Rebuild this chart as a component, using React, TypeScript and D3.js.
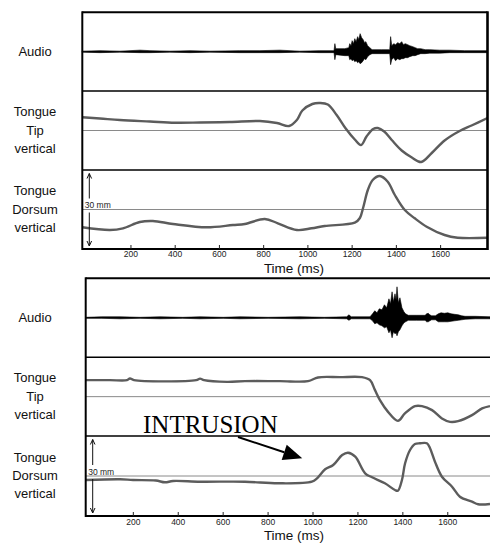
import * as d3 from "d3";

const ticks = [200, 400, 600, 800, 1000, 1200, 1400, 1600];
const rowLabels = [["Audio"], ["Tongue", "Tip", "vertical"], ["Tongue", "Dorsum", "vertical"]];

// audio envelope: [ms, up, down]
const topAudio: [number, number, number][] = [
  [-21, 0.5, 0.5], [60, 1, 1], [150, 0.5, 0.5], [241, 1.5, 1], [286, 1, 1], [376, 0.5, 0.5],
  [467, 1, 1], [557, 0.5, 0.5], [692, 1, 1], [783, 1, 1], [873, 1.5, 1], [963, 0.5, 0.5],
  [1054, 1, 1], [1113, 1, 1], [1118, 1, 1], [1122, 8, 8], [1126, 3, 3], [1167, 3, 4],
  [1185, 4, 4], [1189, 8, 8], [1195, 6, 7], [1200, 11, 9], [1206, 8, 8], [1212, 13, 10],
  [1218, 10, 9], [1225, 15, 11], [1230, 12, 10], [1236, 18, 12], [1243, 14, 11], [1250, 12, 9],
  [1256, 9, 7], [1262, 10, 8], [1270, 6, 5], [1280, 4, 3], [1290, 2, 2], [1334, 2, 2],
  [1370, 2, 2], [1374, 15, 13], [1379, 6, 8], [1388, 8, 6], [1396, 7, 9], [1406, 9, 7],
  [1415, 8, 8], [1424, 10, 7], [1432, 7, 7], [1440, 8, 6], [1451, 7, 6], [1460, 6, 5],
  [1474, 5, 4], [1485, 4, 4], [1496, 3, 3], [1510, 3, 2], [1530, 2, 2], [1551, 2, 1.5],
  [1596, 1.5, 1.5], [1641, 1.5, 1], [1709, 1, 1], [1812, 1, 1],
];

const topTip: [number, number][] = [
  [-20, 13.2], [60, 12], [150, 10.5], [286, 9], [399, 7.8], [512, 8], [647, 8.5], [783, 9.5],
  [860, 7.5], [915, 4.5], [950, 10.5], [975, 20], [1020, 26.5], [1054, 27.5], [1090, 26],
  [1130, 15.5], [1171, 2], [1212, -9], [1240, -14.5], [1265, -6], [1295, 1.5], [1316, 2.5],
  [1345, -1], [1379, -9.5], [1424, -20], [1470, -27], [1512, -31.5], [1560, -22.5],
  [1618, -10], [1686, -0.5], [1740, 5], [1812, 12.5],
];

const topDorsum: [number, number][] = [
  [-20, -17.8], [105, -20.5], [164, -18.8], [240, -12.5], [299, -11.5], [390, -14.5],
  [543, -17.8], [661, -15.5], [715, -14.5], [805, -9.5], [864, -13.8], [950, -20.5],
  [1017, -18.8], [1076, -16.5], [1212, -13.2], [1235, -8.5], [1250, 2], [1271, 19.5],
  [1293, 29.5], [1325, 33.5], [1361, 27.8], [1393, 14.5], [1438, -0.5], [1483, -8.8],
  [1537, -17.2], [1618, -25.5], [1677, -28.2], [1812, -28.2],
];

const botAudio: [number, number, number][] = [
  [-12, 0.5, 0.5], [60, 1, 0.5], [141, 1, 1], [230, 0.5, 0.5], [319, 1, 1], [420, 0.5, 0.5],
  [497, 1, 1], [600, 0.5, 0.5], [675, 1, 1], [800, 0.5, 0.5], [942, 1, 1], [1050, 0.5, 0.5],
  [1150, 1, 1], [1160, 3, 2.5], [1170, 1, 1], [1254, 1, 1], [1265, 4, 3], [1275, 7, 6],
  [1285, 5, 5], [1295, 9, 7], [1307, 8, 8], [1318, 13, 10], [1328, 10, 9], [1338, 19, 15],
  [1345, 14, 12], [1352, 26, 20], [1358, 16, 14], [1365, 24, 16], [1370, 18, 15],
  [1374, 31, 18], [1380, 15, 14], [1387, 20, 12], [1396, 10, 8], [1405, 6, 5], [1412, 4, 4],
  [1424, 2.5, 2.5], [1460, 2.5, 2.5], [1499, 2.5, 2.5], [1506, 4, 4], [1513, 4.5, 4],
  [1520, 3, 3], [1528, 2, 2], [1545, 2, 2], [1558, 4, 4], [1570, 5, 4], [1585, 4.5, 4],
  [1600, 5, 4], [1615, 4, 3.5], [1630, 3.5, 3], [1647, 3, 2.5], [1662, 2, 2],
  [1677, 1.5, 1.5], [1722, 1.5, 1], [1788, 1, 1],
];

const botTip: [number, number][] = [
  [-12, 16.5], [96, 16.5], [172, 16.5], [185, 18.2], [203, 16.5], [480, 16.5], [497, 18], [515, 16.5],
  [617, 14.8], [697, 15.5], [853, 15.5], [978, 15.5], [1022, 19.2], [1120, 19.5],
  [1218, 19.5], [1254, 16.5], [1276, 6.5], [1298, -3.5], [1334, -15.2], [1378, -24.2],
  [1409, -16.8], [1454, -9.5], [1485, -9.5], [1530, -13.5], [1574, -21.8], [1610, -25.2],
  [1646, -24.5], [1708, -18.5], [1753, -11.8], [1788, -9.5],
];

const botDorsum: [number, number][] = [
  [-12, -4], [141, -3.3], [199, -4], [300, -4.5], [341, -6.3], [377, -5], [497, -5.7], [697, -5.7],
  [844, -7.3], [995, -5.7], [1018, -2.3], [1054, 6.7], [1090, 11], [1130, 21], [1156, 23.3],
  [1188, 19.3], [1232, 2.7], [1263, -1.3], [1320, -7.3], [1365, -14], [1378, -14.7],
  [1396, -4], [1410, 12.7], [1432, 26], [1454, 32], [1476, 32.7], [1507, 32.7], [1521, 27.7],
  [1543, 14.3], [1574, -0.7], [1619, -10.7], [1654, -20.7], [1708, -25.7], [1735, -28.3],
  [1788, -28],
];

// annotation: [ms, dorsum value]
const intrusionFrom: [number, number] = [666, 39];
const intrusionTo: [number, number] = [952, 17.7];

const sans = "Liberation Sans, Arial, sans-serif";
const curveColor = "#5c5c5c";

type FigProps = {
  left: number;
  right: number;
  domain: [number, number];
  rows: number[]; // y of 4 horizontal boundaries
  audio: [number, number, number][];
  tip: [number, number][];
  dorsum: [number, number][];
  rightBorder: boolean;
  tickDy: number;
  timeY: number;
  annotate?: boolean;
};

const Figure = ({ left, right, domain, rows, audio, tip, dorsum, rightBorder, tickDy, timeY, annotate }: FigProps) => {
  const x = d3.scaleLinear().domain(domain).range([left, right]);
  const panelY = (i: number) => {
    const h = rows[i + 1] - rows[i];
    return d3.scaleLinear().domain([-h / 2, h / 2]).range([rows[i + 1], rows[i]]);
  };
  const yA = panelY(0);
  const yT = panelY(1);
  const yD = panelY(2);

  const area = d3
    .area<[number, number, number]>()
    .x((d) => x(d[0]))
    .y0((d) => yA(-d[2]))
    .y1((d) => yA(d[1]));

  const lineT = d3
    .line<[number, number]>()
    .x((d) => x(d[0]))
    .y((d) => yT(d[1]))
    .curve(d3.curveCatmullRom.alpha(0.5));
  const lineD = d3
    .line<[number, number]>()
    .x((d) => x(d[0]))
    .y((d) => yD(d[1]))
    .curve(d3.curveCatmullRom.alpha(0.5));

  const bottom = rows[3];
  const dTop = rows[2];
  const dMid = yD(0);
  const ax = left + 7;

  return (
    <g>
      {/* row labels */}
      {rowLabels.map((lines, i) => {
        const mid = (rows[i] + rows[i + 1]) / 2;
        return lines.map((t, j) => (
          <text
            key={i + "-" + j}
            x={35}
            y={mid + 4 + (j - (lines.length - 1) / 2) * 18.3}
            textAnchor="middle"
            fontFamily={sans}
            fontSize={13}
            fill="#111"
          >
            {t}
          </text>
        ));
      })}

      {/* reference lines */}
      {[yA, yT, yD].map((s, i) => (
        <line key={i} x1={left} x2={right} y1={s(0)} y2={s(0)} stroke="#8a8a8a" strokeWidth={1} />
      ))}

      <path d={area(audio) ?? ""} fill="#000" stroke="#000" strokeWidth={0.6} />
      <path d={lineT(tip) ?? ""} fill="none" stroke={curveColor} strokeWidth={2.4} />
      <path d={lineD(dorsum) ?? ""} fill="none" stroke={curveColor} strokeWidth={2.4} />

      {/* 30 mm arrows */}
      <g stroke="#111" strokeWidth={1} fill="none">
        <line x1={ax} x2={ax} y1={dTop + 3.5} y2={dMid - 11} />
        <path d={`M${ax - 2.3},${dTop + 8.5}L${ax},${dTop + 3.5}L${ax + 2.3},${dTop + 8.5}`} />
        <line x1={ax} x2={ax} y1={dMid + 3} y2={bottom - 3} />
        <path d={`M${ax - 2.3},${bottom - 8}L${ax},${bottom - 3}L${ax + 2.3},${bottom - 8}`} />
      </g>
      <text x={left + 2.5} y={dMid - 1.5} fontFamily={sans} fontSize={8.5} fill="#222">
        30 mm
      </text>

      {/* frame */}
      <g stroke="#000" fill="none">
        <line x1={left} x2={right} y1={rows[0]} y2={rows[0]} strokeWidth={2} />
        <line x1={left} x2={right} y1={rows[1]} y2={rows[1]} strokeWidth={1.6} />
        <line x1={left} x2={right} y1={rows[2]} y2={rows[2]} strokeWidth={1.6} />
        <line x1={left} x2={right} y1={bottom} y2={bottom} strokeWidth={2} />
        <line x1={left} x2={left} y1={rows[0] - 1} y2={bottom + 1} strokeWidth={2} />
        {rightBorder && <line x1={right} x2={right} y1={rows[0] - 1} y2={bottom + 1} strokeWidth={2.6} />}
      </g>

      {/* x ticks */}
      {ticks.map((t) => (
        <g key={t}>
          <line x1={x(t)} x2={x(t)} y1={bottom} y2={bottom - 4} stroke="#222" strokeWidth={1} />
          <text x={x(t)} y={bottom + tickDy} textAnchor="middle" fontFamily={sans} fontSize={8.5} fill="#222">
            {t}
          </text>
        </g>
      ))}
      <text x={294} y={timeY} textAnchor="middle" fontFamily={sans} fontSize={13.5} fill="#111">
        Time (ms)
      </text>

      {annotate && (() => {
        const x0 = x(intrusionFrom[0]);
        const y0 = yD(intrusionFrom[1]);
        const x1 = x(intrusionTo[0]);
        const y1 = yD(intrusionTo[1]);
        const ang = Math.atan2(y1 - y0, x1 - x0);
        const len = 19;
        const half = 8;
        const bx = x1 - len * Math.cos(ang);
        const by = y1 - len * Math.sin(ang);
        const px = -Math.sin(ang);
        const py = Math.cos(ang);
        return (
          <g>
            <text x={143} y={433} fontFamily="Liberation Serif, Times New Roman, serif" fontSize={25} fill="#000">
              INTRUSION
            </text>
            <line x1={x0} y1={y0} x2={bx} y2={by} stroke="#000" strokeWidth={2} />
            <path
              d={`M${x1},${y1}L${bx + px * half},${by + py * half}L${bx - px * half},${by - py * half}Z`}
              fill="#000"
            />
          </g>
        );
      })()}
    </g>
  );
};

export default function App() {
  return (
    <svg
      width={490}
      height={543}
      style={{ position: "absolute", left: 0, top: 0, background: "#fff" }}
    >
      <rect width={490} height={543} fill="#fff" />
      <Figure
        left={82.3}
        right={487.5}
        domain={[-20, 1812]}
        rows={[12.3, 91, 170, 249]}
        audio={topAudio}
        tip={topTip}
        dorsum={topDorsum}
        rightBorder={true}
        tickDy={8.3}
        timeY={273}
      />
      <Figure
        left={85.7}
        right={490}
        domain={[-12, 1788]}
        rows={[278.3, 357.3, 436, 516]}
        audio={botAudio}
        tip={botTip}
        dorsum={botDorsum}
        rightBorder={false}
        tickDy={8.8}
        timeY={539.5}
        annotate={true}
      />
    </svg>
  );
}
